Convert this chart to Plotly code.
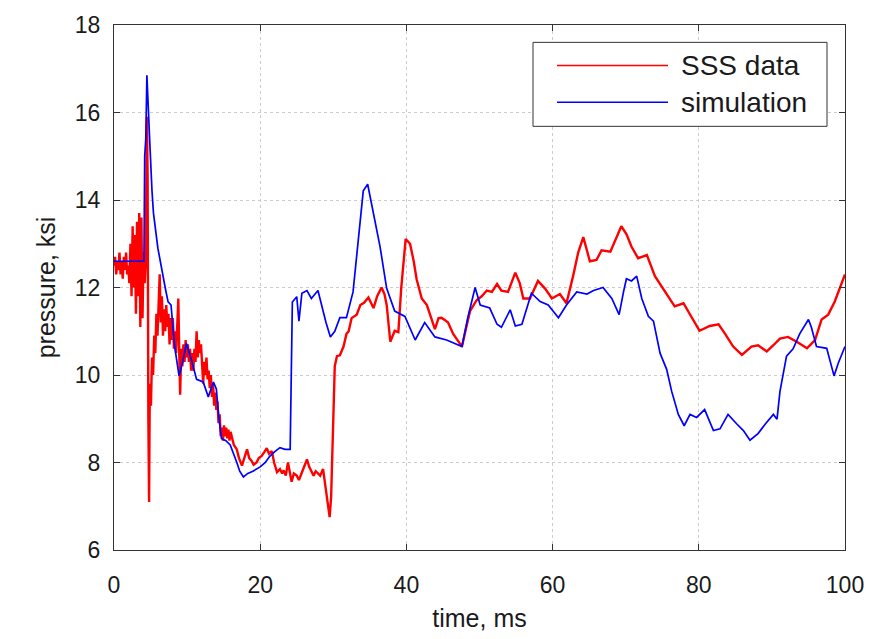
import plotly.graph_objects as go

# ---- data ----
sss_t = [0.0, 0.15, 0.3, 0.45, 0.6, 0.75, 0.9, 1.05, 1.2, 1.35, 1.5, 1.65, 1.8, 1.95,
         2.1, 2.25, 2.4, 2.55, 2.7, 2.85, 3.0, 3.15, 3.3, 3.45, 3.6, 3.75, 3.9, 4.05,
         4.2, 4.35, 4.5, 4.6, 4.7, 4.8,
         4.9, 5.05, 5.2, 5.35, 5.5, 5.65, 5.8, 5.95, 6.1, 6.25, 6.4, 6.55, 6.7, 6.85,
         7.0, 7.15, 7.3, 7.45, 7.6, 7.75, 7.9, 8.05, 8.2, 8.35, 8.5, 8.65, 8.8, 8.95,
         9.05, 9.2, 9.35, 9.5, 9.65, 9.8, 9.95, 10.1, 10.25, 10.4, 10.55, 10.7, 10.85,
         11.0, 11.15, 11.3, 11.45, 11.6, 11.75, 11.9, 12.05, 12.2, 12.35, 12.5, 12.65,
         12.8, 12.95, 13.1, 13.25, 13.4, 13.55, 13.7, 13.85, 14.0, 14.15, 14.3, 14.45,
         14.6, 14.75, 14.9, 15.05, 15.2, 15.35, 15.5, 15.65, 15.8, 15.95, 16.1, 16.4,
         16.8, 17.1, 17.5, 17.8, 18.2, 18.5, 18.8, 19.1, 19.5, 19.8, 20.2, 20.6, 20.9,
         21.2, 21.6, 21.9, 22.3, 22.7, 23.0, 23.2, 23.5, 23.8, 24.0, 24.3, 24.6, 25.0,
         25.3, 25.7, 26.0, 26.4, 26.7, 27.0, 27.3, 27.6, 27.9, 28.2, 28.6, 28.9, 29.1,
         29.3, 29.5, 29.7, 29.85, 30.0, 30.2, 30.5, 30.9, 31.4, 31.8, 32.1, 32.5, 33.2,
         33.7, 34.2, 34.8, 35.5, 36.0, 36.6, 37.0, 37.3, 37.6, 37.8, 38.4, 38.9, 39.3,
         39.9, 40.5, 41.0, 41.4, 42.1, 42.8, 43.4, 43.9, 44.4, 44.8, 45.3, 45.7, 46.4,
         47.0, 47.6, 48.2, 48.7, 49.6, 50.3, 51.0, 51.7, 52.4, 53.0, 53.9, 54.4, 54.9,
         55.5, 56.0, 56.9, 57.5, 58.0, 59.0, 59.9, 61.0, 61.9, 62.8, 63.5, 64.2, 65.1,
         66.0, 66.7, 67.9, 68.5, 69.4, 70.1, 70.8, 71.7, 72.9, 74.0, 74.9, 75.8, 76.7,
         77.9, 78.8, 80.1, 81.5, 82.7, 83.6, 84.7, 85.9, 87.2, 88.1, 89.3, 90.2, 91.1,
         92.2, 93.4, 94.8, 95.9, 96.8, 97.7, 98.6, 99.8, 100.0]
sss_p = [12.5, 12.7, 12.3, 12.6, 12.4, 12.8, 12.3, 12.6, 12.2, 12.7, 12.4, 12.8, 12.3, 12.5,
         12.1, 13.0, 11.8, 13.4, 12.0, 13.2, 11.4, 13.5, 11.8, 13.7, 11.1, 13.6, 11.3, 12.8,
         12.1, 12.6, 15.9, 14.5, 9.0, 7.1,
         9.8, 9.3, 10.4, 10.0, 10.9, 10.5, 11.4, 10.9, 11.6, 12.3, 11.2, 11.8, 10.9, 11.5,
         11.0, 11.6, 11.1, 11.4, 10.7, 11.3, 10.8, 11.3, 10.6, 11.0, 10.5, 11.2, 11.75, 10.3,
         9.55, 10.6, 10.2, 10.7, 10.3, 10.8, 10.4, 10.7, 10.3, 10.6, 10.1, 10.5, 10.1,
         10.6, 10.3, 11.0, 10.4, 10.8, 10.5, 10.7, 10.2, 9.8, 10.3, 10.0, 10.4,
         9.9, 10.1, 9.7, 10.0, 9.5, 9.8, 9.3, 9.6, 9.2, 9.4, 8.9, 9.1,
         8.6, 8.8, 8.5, 8.85, 8.6, 8.8, 8.55, 8.75, 8.5, 8.7, 8.6, 8.4,
         8.3, 8.1, 7.93, 8.1, 8.3, 8.1, 8.04, 7.95, 8.0, 8.1, 8.15, 8.25, 8.33,
         8.2, 8.26, 8.0, 7.78, 7.85, 7.75, 7.82, 7.7, 8.0, 7.8, 7.56, 7.75, 7.7,
         7.6, 7.78, 7.9, 8.07, 7.9, 7.78, 7.7, 7.8, 7.74, 7.7, 7.85, 7.5, 7.26,
         6.95, 6.75, 7.2, 8.0, 9.32, 10.2, 10.43, 10.45, 10.65, 10.94, 11.0, 11.3, 11.38,
         11.6, 11.65, 11.77, 11.53, 11.8, 12.0, 11.85, 11.6, 11.0, 10.76, 11.01, 10.98, 12.0,
         13.11, 13.0, 12.6, 12.19, 11.75, 11.6, 11.3, 11.05, 11.3, 11.31, 11.25, 11.2, 10.94,
         10.8, 10.65, 11.1, 11.46, 11.71, 11.8, 11.93, 11.9, 12.08, 11.93, 11.9, 12.1, 12.34,
         12.1, 11.75, 11.75, 11.95, 12.15, 11.97, 11.75, 11.85, 11.64, 12.26, 12.8, 13.15, 12.6,
         12.63, 12.85, 12.82, 13.07, 13.4, 13.22, 12.93, 12.67, 12.74, 12.26, 12.04, 11.82, 11.57,
         11.64, 11.38, 11.01, 11.12, 11.16, 10.94, 10.65, 10.46, 10.65, 10.68, 10.54, 10.68, 10.83,
         10.87, 10.76, 10.61, 10.8, 11.27, 11.38, 11.68, 12.22, 12.3]

sim_t = [0.0, 4.1, 4.2, 4.35, 4.5, 4.7, 4.9, 5.2, 5.4, 6.0, 6.5, 7.0, 7.4, 7.8, 8.3, 8.9,
         9.4, 9.9, 10.6, 11.3, 12.2, 12.9, 13.6, 14.0, 14.3, 14.7, 15.3, 15.9, 16.8,
         17.2, 17.7, 18.3, 19.0, 19.5, 20.0, 20.7, 21.3, 22.0, 22.7, 23.4, 24.1, 24.4,
         25.0, 25.3, 25.7, 26.4, 27.0, 27.9, 28.4, 29.0, 29.6, 30.2, 30.9, 31.8, 32.7,
         33.5, 34.1, 34.7, 35.5, 36.4, 37.3, 38.4, 39.8, 41.2, 42.5, 43.9, 45.5, 47.6,
         48.4, 49.4, 50.1, 51.4, 52.4, 53.0, 54.2, 54.9, 55.8, 57.1, 58.3, 59.4, 60.8,
         61.9, 63.3, 64.7, 65.6, 66.9, 68.1, 69.1, 69.7, 70.1, 70.8, 71.5, 72.2, 73.1,
         73.8, 74.7, 75.6, 76.3, 77.2, 78.0, 78.8, 79.7, 80.8, 82.0, 82.9, 84.0, 85.2,
         86.1, 87.0, 88.1, 89.1, 90.2, 90.7, 91.1, 92.0, 92.9, 93.8, 94.5, 95.0, 95.4,
         96.1, 97.5, 98.5, 99.1, 100.0]
sim_p = [12.6, 12.6, 15.0, 15.4, 16.85, 16.2, 15.3, 14.2, 13.7, 12.9, 12.4, 12.0, 11.67, 11.6, 10.65, 9.98,
         10.3, 10.72, 10.34, 9.9, 9.84, 9.5, 9.84, 9.68, 9.1, 8.55, 8.5, 8.4, 8.0,
         7.8, 7.67, 7.75, 7.8, 7.85, 7.9, 8.0, 8.14, 8.25, 8.34, 8.3, 8.3, 11.67,
         11.79, 11.23, 11.87, 11.93, 11.75, 11.93, 11.57, 11.2, 10.87, 11.0, 11.31, 11.31, 11.9,
         13.3, 14.21, 14.36, 13.66, 12.93, 11.98, 11.46, 11.34, 10.8, 11.2, 10.87, 10.8, 10.65,
         11.31, 12.0, 11.6, 11.53, 11.16, 11.09, 11.49, 11.12, 11.16, 11.87, 11.68, 11.6, 11.31,
         11.6, 11.9, 11.85, 11.93, 12.0, 11.75, 11.38, 11.9, 12.2, 12.15, 12.26, 11.75, 11.34,
         11.23, 10.5, 10.13, 9.62, 9.1, 8.84, 9.1, 9.03, 9.21, 8.73, 8.77, 9.1, 8.88,
         8.73, 8.51, 8.66, 8.88, 9.1, 8.99, 9.62, 10.43, 10.6, 10.94, 11.12, 11.27, 11.09,
         10.65, 10.61, 9.98, 10.28, 10.65]

x_ticks = [0, 20, 40, 60, 80, 100]
y_ticks = [6, 8, 10, 12, 14, 16, 18]
series_names = ["SSS data", "simulation"]
series_colors = ["#FF0000", "#0000FF"]

FONT = "Liberation Sans, Arial, sans-serif"
TXT = "#1a1a1a"

fig = go.Figure()
fig.add_trace(go.Scatter(x=sss_t, y=sss_p, mode="lines", name=series_names[0],
                         line=dict(color=series_colors[0], width=2.4), showlegend=False))
fig.add_trace(go.Scatter(x=sim_t, y=sim_p, mode="lines", name=series_names[1],
                         line=dict(color=series_colors[1], width=1.7), showlegend=False))

axis_common = dict(
    showline=True, linecolor="#333333", linewidth=1, mirror="ticks",
    ticks="inside", ticklen=6, tickcolor="#333333",
    showgrid=True, gridcolor="#cccccc", griddash="dot", gridwidth=1,
    zeroline=False, tickfont=dict(family=FONT, size=23, color=TXT),
)

fig.update_xaxes(range=[0, 100], tickvals=x_ticks, ticklabelstandoff=14,
                 title=dict(text="time, ms", font=dict(family=FONT, size=25, color=TXT),
                            standoff=12),
                 **axis_common)
fig.update_yaxes(range=[6, 18], tickvals=y_ticks, ticklabelstandoff=8,
                 title=dict(text="pressure, ksi", font=dict(family=FONT, size=25, color=TXT),
                            standoff=12),
                 **axis_common)

# ---- legend box drawn in paper coordinates (MATLAB-style long swatches) ----
PL, PR, PT, PB = 114, 845, 20, 564          # plot area in pixels
def px(xp):
    return (xp - PL) / (PR - PL)
def py(yp):
    return (PB - yp) / (PB - PT)

shapes = [dict(type="rect", xref="paper", yref="paper",
               x0=px(533), x1=px(827), y0=py(125), y1=py(38),
               line=dict(color="#333333", width=1), fillcolor="white", layer="above")]
annotations = []
for i, (nm, col) in enumerate(zip(series_names, series_colors)):
    yy = 62 + 38 * i
    shapes.append(dict(type="line", xref="paper", yref="paper",
                       x0=px(557), x1=px(668), y0=py(yy), y1=py(yy),
                       line=dict(color=col, width=1.5), layer="above"))
    annotations.append(dict(text=nm, xref="paper", yref="paper", x=px(679), y=py(yy),
                            xanchor="left", yanchor="middle", showarrow=False,
                            font=dict(family=FONT, size=28, color=TXT)))

fig.update_layout(
    width=895, height=639,
    margin=dict(l=114, r=50, t=20, b=75),
    paper_bgcolor="white", plot_bgcolor="white",
    showlegend=False,
    shapes=shapes, annotations=annotations,
)

fig.write_html("out.html")
